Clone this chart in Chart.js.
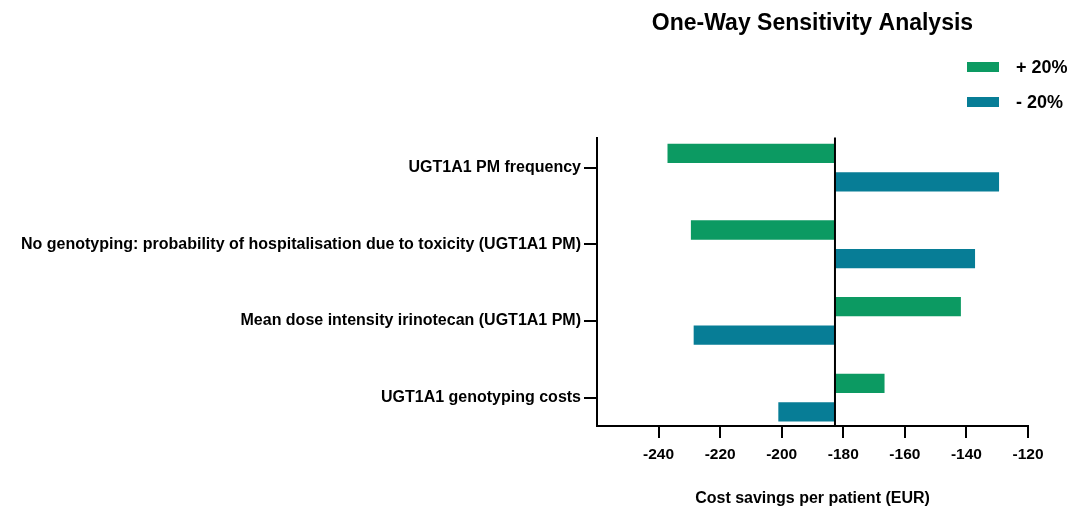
<!DOCTYPE html>
<html>
<head>
<meta charset="utf-8">
<script src="https://cdn.jsdelivr.net/npm/chart.js@4"></script>
<style>
  body { margin: 0; background: #fff; }
  #wrap { width: 1071px; height: 511px; position: relative; }
</style>
</head>
<body>
<div id="wrap"><canvas id="chartTornado"></canvas></div>
<script>
// parameters, top to bottom
var categories = [
    'UGT1A1 PM frequency',
    'No genotyping: probability of hospitalisation due to toxicity (UGT1A1 PM)',
    'Mean dose intensity irinotecan (UGT1A1 PM)',
    'UGT1A1 genotyping costs'
];
var seriesLabels = ['+ 20%', '- 20%'];
var baseCase = -182.7;
var plus20 = [-237.1, -229.5, -141.8, -166.6];
var minus20 = [-129.4, -137.2, -228.6, -201.1];
var xTicks = [-240, -220, -200, -180, -160, -140, -120];
var colors = ['#0c9a62', '#077d96'];

var wide = "'Liberation Sans', Arial, sans-serif";

function toBars(values) {
    return values.map(function (v, i) {
        return { x: [baseCase, v], y: i };
    });
}

// vertical line at the base case value
var baseLine = {
    id: 'baseLine',
    afterDatasetsDraw: function (chart) {
        var ctx = chart.ctx;
        var x = chart.scales.x.getPixelForValue(baseCase);
        ctx.save();
        ctx.strokeStyle = '#000';
        ctx.lineWidth = 2;
        ctx.beginPath();
        ctx.moveTo(x, chart.chartArea.top);
        ctx.lineTo(x, chart.chartArea.bottom);
        ctx.stroke();
        ctx.restore();
    }
};

// legend stacked at the top right
var stackedLegend = {
    id: 'stackedLegend',
    afterDraw: function (chart) {
        var ctx = chart.ctx;
        var left = chart.chartArea.right - 61;
        ctx.save();
        ctx.font = 'bold 18px ' + wide;
        ctx.textAlign = 'left';
        ctx.textBaseline = 'middle';
        chart.data.datasets.forEach(function (ds, i) {
            var y = 62 + i * 35;
            ctx.fillStyle = ds.backgroundColor;
            ctx.fillRect(left, y, 32, 10);
            ctx.fillStyle = '#000';
            ctx.fillText(ds.label, left + 49, y + 6);
        });
        ctx.restore();
    }
};

Chart.defaults.font.family = wide;
Chart.defaults.font.weight = 'bold';
Chart.defaults.color = '#000';

var ctx = document.getElementById('chartTornado').getContext('2d');
var chart = new Chart(ctx, {
    type: 'bar',
    data: {
        datasets: [{
            label: seriesLabels[0],
            data: toBars(plus20),
            backgroundColor: colors[0]
        }, {
            label: seriesLabels[1],
            data: toBars(minus20),
            backgroundColor: colors[1]
        }]
    },
    options: {
        indexAxis: 'y',
        responsive: true,
        maintainAspectRatio: false,
        animation: false,
        categoryPercentage: 0.745,
        barPercentage: 0.675,
        layout: { padding: { left: 0, right: 43, top: 0, bottom: 0 } },
        plugins: {
            legend: { display: false },
            tooltip: { enabled: false },
            title: {
                display: true,
                text: 'One-Way Sensitivity Analysis',
                fullSize: false,
                font: { size: 23, weight: 'bold' },
                color: '#000',
                padding: { top: 10, bottom: 100 }
            }
        },
        scales: {
            x: {
                type: 'linear',
                min: -260,
                max: -120,
                afterBuildTicks: function (axis) {
                    axis.ticks = xTicks.map(function (v) { return { value: v }; });
                },
                afterFit: function (axis) { axis.height = 85; },
                border: { display: true, color: '#000', width: 2 },
                grid: { drawOnChartArea: false, drawTicks: true, tickLength: 12, color: '#000', lineWidth: 2 },
                ticks: { font: { size: 15.5 }, padding: 7, maxRotation: 0 },
                title: {
                    display: true,
                    text: 'Cost savings per patient (EUR)',
                    font: { size: 16, weight: 'bold' },
                    padding: { top: 4, bottom: 3 }
                }
            },
            y: {
                type: 'linear',
                reverse: true,
                offset: false,
                min: -0.392,
                max: 3.371,
                afterBuildTicks: function (axis) {
                    axis.ticks = categories.map(function (c, i) { return { value: i }; });
                },
                afterFit: function (axis) { axis.width = 597; },
                border: { display: true, color: '#000', width: 2 },
                grid: { offset: false, drawOnChartArea: false, drawTicks: true, tickLength: 13, color: '#000', lineWidth: 2 },
                ticks: {
                    font: { size: 16 },
                    padding: 3,
                    callback: function (value) { return categories[value]; }
                }
            }
        }
    },
    plugins: [baseLine, stackedLegend]
});
</script>
</body>
</html>
